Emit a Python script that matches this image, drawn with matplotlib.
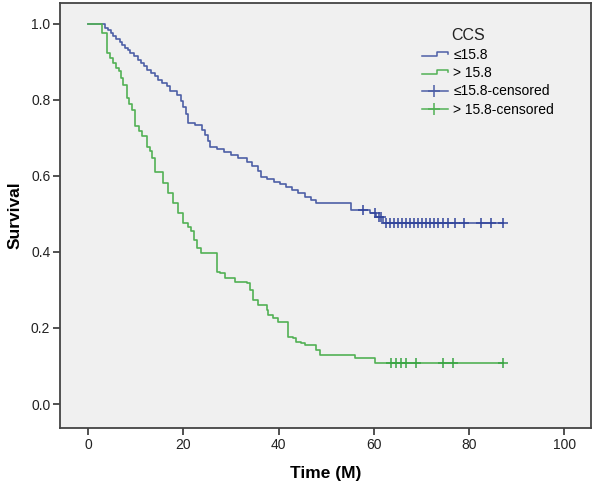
import matplotlib
matplotlib.use('Agg')
import matplotlib.pyplot as plt
import numpy as np
from matplotlib.legend_handler import HandlerBase
from matplotlib.lines import Line2D

plt.rcParams['font.family'] = ['Liberation Sans', 'DejaVu Sans']

# ---- data ----
low_times = [3.6, 4.2, 4.9, 5.3, 5.9, 6.6, 7.1, 7.7, 8.4, 8.8, 9.6, 10.5, 11.2, 11.8,
             12.3, 13.2, 14.0, 14.7, 15.6, 16.5, 17.2, 18.6, 19.5, 20.0, 20.5, 21.0,
             22.5, 24.0, 24.5, 25.2, 25.6, 27.0, 28.5, 30.0, 31.5, 33.3, 34.5, 35.6,
             36.4, 37.5, 39.0, 40.3, 41.5, 42.8, 44.0, 45.5, 46.8, 47.9, 55.3, 59.1,
             60.5, 61.9]
low_surv = [0.99, 0.983, 0.975, 0.968, 0.96, 0.952, 0.945, 0.937, 0.93, 0.922, 0.915,
            0.905, 0.897, 0.889, 0.879, 0.871, 0.862, 0.853, 0.845, 0.836, 0.824, 0.813,
            0.797, 0.781, 0.762, 0.74, 0.733, 0.72, 0.708, 0.692, 0.676, 0.67, 0.662,
            0.655, 0.648, 0.636, 0.625, 0.612, 0.598, 0.592, 0.585, 0.578, 0.57, 0.562,
            0.555, 0.545, 0.537, 0.528, 0.51, 0.502, 0.493, 0.476]
low_censored = [57.8, 60.2, 61.0, 61.6, 62.5, 63.3, 64.2, 65.0, 65.9, 66.7, 67.5, 68.4,
                69.2, 70.1, 70.9, 71.8, 72.6, 73.5, 74.5, 75.5, 77.0, 79.0, 82.5, 84.6,
                87.2]

high_times = [2.9, 3.9, 4.6, 5.3, 5.8, 6.4, 6.9, 7.4, 8.1, 8.6, 9.2, 9.9, 10.6, 11.3,
              12.3, 12.9, 13.4, 14.0, 15.8, 16.8, 17.9, 18.9, 20.0, 21.0, 21.7, 22.3,
              22.8, 23.8, 27.0, 27.7, 28.7, 30.8, 33.3, 34.0, 34.7, 35.7, 37.5, 37.8,
              38.8, 39.9, 42.0, 43.0, 43.7, 44.8, 45.5, 47.9, 48.6, 56.0, 60.2]
high_surv = [0.975, 0.923, 0.91, 0.896, 0.885, 0.875, 0.858, 0.84, 0.804, 0.79, 0.774,
             0.73, 0.718, 0.704, 0.677, 0.665, 0.647, 0.611, 0.581, 0.554, 0.528, 0.502,
             0.475, 0.465, 0.454, 0.432, 0.41, 0.396, 0.348, 0.344, 0.331, 0.322, 0.318,
             0.30, 0.274, 0.26, 0.247, 0.234, 0.225, 0.217, 0.177, 0.174, 0.164, 0.16,
             0.155, 0.142, 0.129, 0.12, 0.107]
high_censored = [63.7, 64.7, 65.7, 66.8, 68.9, 74.6, 76.7, 87.2]

labels = ['≤15.8', '> 15.8', '≤15.8-censored', '> 15.8-censored']
legend_title = 'CCS'
x_ticks = [0, 20, 40, 60, 80, 100]
y_ticks = [0.0, 0.2, 0.4, 0.6, 0.8, 1.0]

blue = '#4d5fa6'
blue_c = '#33469c'
green = '#52b155'
green_c = '#3aa544'

fig = plt.figure(figsize=(6.0, 4.88), dpi=100)
ax = fig.add_axes([0.1, 0.123, 0.885, 0.871])
ax.set_facecolor('#f0f0f0')


def km_curve(times, surv, cens):
    end = max(cens)
    t = np.concatenate([[0.0], times, [end]])
    s = np.concatenate([[1.0], surv, [surv[-1]]])
    ct = np.array(cens)
    idx = np.searchsorted(t, ct, side='right') - 1
    cs = s[idx]
    return t, s, ct, cs


for times, surv, cens, col, ccol in [
        (low_times, low_surv, low_censored, blue, blue_c),
        (high_times, high_surv, high_censored, green, green_c)]:
    t, s, ct, cs = km_curve(times, surv, cens)
    ax.step(t, s, where='post', color=col, lw=1.2, zorder=3)
    ax.plot(ct, cs, ls='none', marker='+', ms=7, mew=1.1, color=ccol, zorder=4)

ax.set_xlim(-5.9, 105.6)
ax.set_ylim(-0.063, 1.055)
ax.set_xticks(x_ticks)
ax.set_xticklabels([str(v) for v in x_ticks])
ax.set_yticks(y_ticks)
ax.set_yticklabels([f'{v:.1f}' for v in y_ticks])
ax.tick_params(direction='out', length=5, width=1.2, color='#333333',
               labelsize=10, labelcolor='#222222', pad=2)
for sp in ax.spines.values():
    sp.set_color('#444444')
    sp.set_linewidth(1.3)

ax.set_xlabel('Time (M)', fontsize=12.5, fontweight='bold', labelpad=10)
ax.set_ylabel('Survival', fontsize=12.5, fontweight='bold', labelpad=6)


class StepHandler(HandlerBase):
    def create_artists(self, legend, orig_handle, xdescent, ydescent, width,
                       height, fontsize, trans):
        col = orig_handle.get_color()
        x0, y0 = -xdescent, -ydescent
        xs = [x0 + 0.05 * width, x0 + 0.55 * width, x0 + 0.55 * width,
              x0 + 0.9 * width, x0 + 0.9 * width]
        ys = [y0 + 0.3 * height, y0 + 0.3 * height, y0 + 0.75 * height,
              y0 + 0.75 * height, y0 + 0.5 * height]
        return [Line2D(xs, ys, color=col, lw=1.1, transform=trans)]


class CensHandler(HandlerBase):
    def create_artists(self, legend, orig_handle, xdescent, ydescent, width,
                       height, fontsize, trans):
        col = orig_handle.get_color()
        x0, y0 = -xdescent, -ydescent
        l = Line2D([x0 + 0.05 * width, x0 + 0.9 * width], [y0 + 0.45 * height] * 2,
                   color=col, lw=1.1, transform=trans)
        m = Line2D([x0 + 0.45 * width], [y0 + 0.45 * height], marker='+', ms=9,
                   mew=1.1, color=col, transform=trans)
        return [l, m]


h1 = Line2D([], [], color=blue)
h2 = Line2D([], [], color=green)
h3 = Line2D([], [], color=blue)
h4 = Line2D([], [], color=green)
ax.legend([h1, h2, h3, h4], labels,
          handler_map={h1: StepHandler(), h2: StepHandler(),
                       h3: CensHandler(), h4: CensHandler()},
          loc='upper left', bbox_to_anchor=(420 / 600, 1 - 48 / 488),
          bbox_transform=fig.transFigure, frameon=False, fontsize=10,
          handlelength=2.2, handletextpad=0.2, labelspacing=0.3,
          borderpad=0, borderaxespad=0)
fig.text(468 / 600, 1 - 36 / 488, legend_title, ha='center', va='center',
         fontsize=11.5, color='#222222')

fig.savefig('out.png', dpi=100)
